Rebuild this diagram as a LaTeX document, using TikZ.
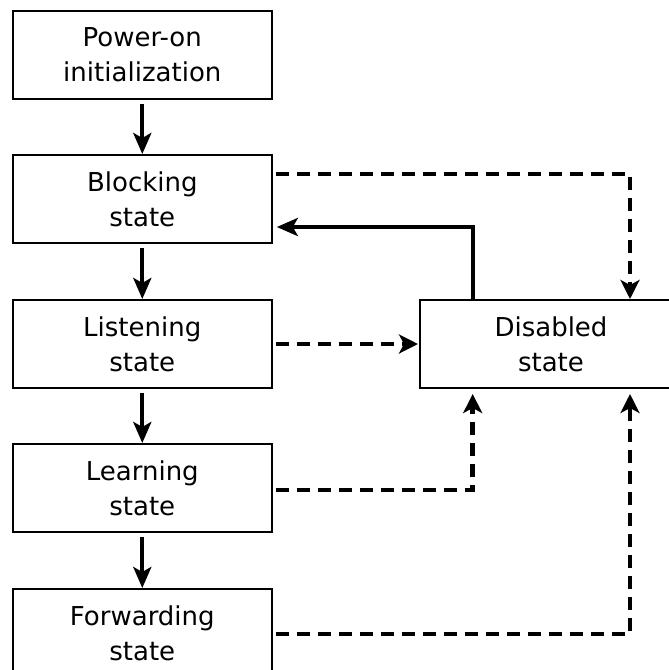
\documentclass[tikz,border=0pt]{standalone}
\usepackage{fontspec}
\setmainfont{DejaVu Sans}
\usetikzlibrary{arrows.meta}
\begin{document}
\begin{tikzpicture}[x=1pt,y=-1pt,
  statebox/.style={draw=black, line width=2pt, minimum width=259pt, minimum height=88pt,
    inner sep=0pt, align=center, font=\fontsize{26}{35}\selectfont},
  flow/.style={line width=4pt, -{Stealth[length=21pt,width=18pt,inset=5pt]}},
  dflow/.style={line width=4.5pt, dash pattern=on 13pt off 8pt,
    -{Stealth[length=19pt,width=19pt,inset=5pt]}}
]
\clip (0,0) rectangle (669,670);
\fill[white] (0,0) rectangle (669,670);
\node[statebox] (power) at (142.3,55) {Power-on\\initialization};
\node[statebox] (block) at (142.3,199) {Blocking\\state};
\node[statebox] (listen) at (142.3,344) {Listening\\state};
\node[statebox] (learn) at (142.3,488) {Learning\\state};
\node[statebox] (fwd) at (142.3,633) {Forwarding\\state};
\node[statebox, minimum width=262pt] (dis) at (551,344) {Disabled\\state};

\draw[flow] ([yshift=-4pt]power.south) -- (block.north);
\draw[flow] ([yshift=-4pt]block.south) -- (listen.north);
\draw[flow] ([yshift=-4pt]listen.south) -- (learn.north);
\draw[flow] ([yshift=-4pt]learn.south) -- (fwd.north);

\draw[flow] (dis.north -| 472.7,0) |- ([xshift=4pt]block.east |- 0,227);

\draw[dflow] ([xshift=3pt]block.east |- 0,174) -| (dis.north -| 630,0);
\draw[dflow] ([xshift=3pt]listen.east) -- ([xshift=-1pt]dis.west);
\draw[dflow] ([xshift=3pt]learn.east |- 0,490) -| ([yshift=-5pt]dis.south -| 472.7,0);
\draw[dflow] ([xshift=3pt]fwd.east |- 0,634) -| ([yshift=-5pt]dis.south -| 630,0);
\end{tikzpicture}
\end{document}
